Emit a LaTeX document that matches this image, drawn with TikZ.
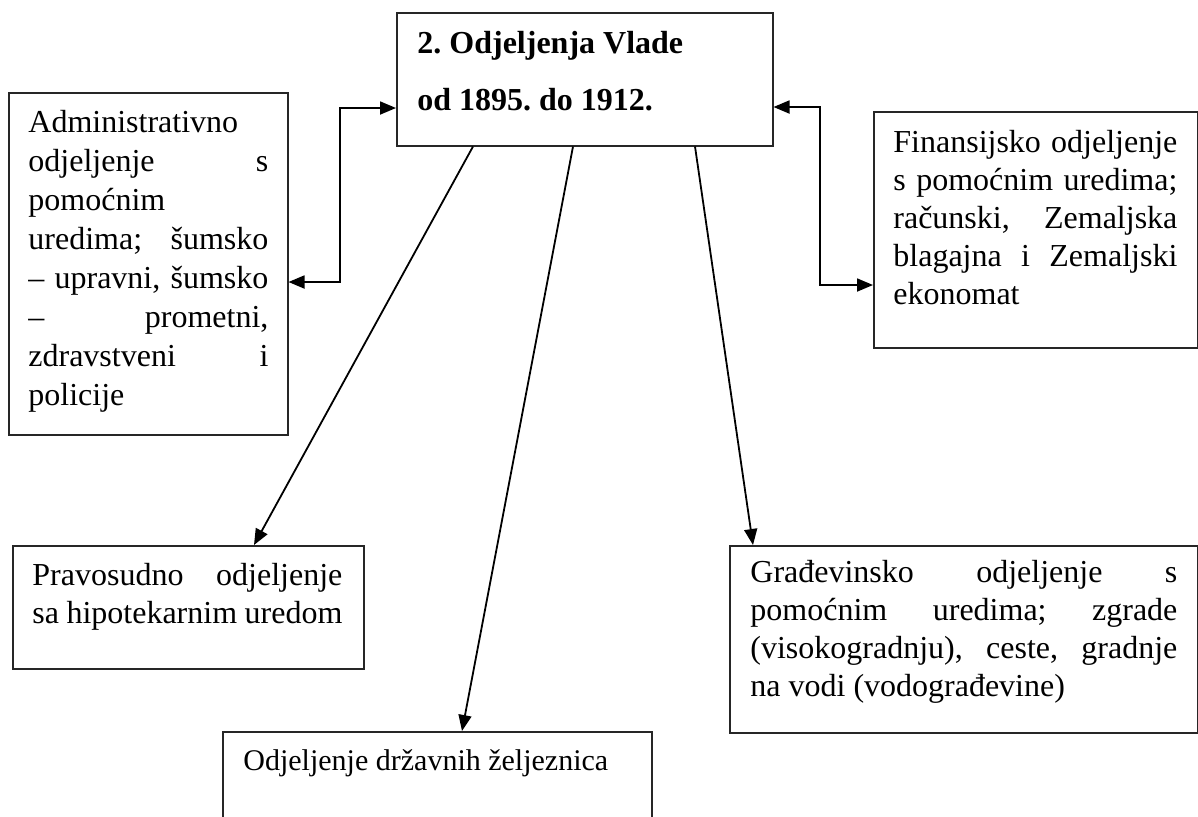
\documentclass[tikz,border=0pt]{standalone}
\usepackage{fontspec}
\setmainfont{Liberation Serif}
\usetikzlibrary{arrows.meta,calc}
\frenchspacing
\newcommand\jl[1]{\makebox[\linewidth][s]{#1}}
\newcommand\tbox[3]{\parbox[t]{#1}{\setlength{\baselineskip}{#2}#3}}
\begin{document}
\begin{tikzpicture}[x=0.5pt,y=-0.5pt,
  box/.style={draw=black!85,line width=0.75pt,anchor=north west,inner sep=0pt},
  txt/.style={anchor=base west,inner sep=0pt,font=\fontsize{16pt}{19pt}\selectfont},
  arr/.style={line width=0.9pt,-{Triangle[length=8pt,width=6.5pt]}},
  darr/.style={line width=0.9pt,{Triangle[length=8pt,width=6.5pt]}-{Triangle[length=8pt,width=6.5pt]}}]
\useasboundingbox (0,0) rectangle (1198,816);
% boxes
\node[box,minimum width=188pt,minimum height=66.5pt] (top) at (396,12) {};
\node[box,minimum width=139.5pt,minimum height=171pt] (adm) at (8,92) {};
\node[box,minimum width=162pt,minimum height=118pt] (fin) at (873,111) {};
\node[box,minimum width=175.5pt,minimum height=61.5pt] (prav) at (12,545) {};
\node[box,minimum width=214.5pt,minimum height=54.5pt] (drz) at (222,731) {};
\node[box,minimum width=234pt,minimum height=93.5pt] (grad) at (729,545) {};
% texts
\node[txt] (topt) at (417,53) {\tbox{180pt}{28.5pt}{\bfseries 2. Odjeljenja Vlade\\od 1895. do 1912.}};
\node[txt] (admt) at (28,132) {\tbox{120pt}{19.5pt}{Administrativno\\\jl{odjeljenje s}\\pomoćnim\\\jl{uredima; šumsko}\\\jl{– upravni, šumsko}\\\jl{– prometni,}\\\jl{zdravstveni i}\\policije}};
\node[txt] (fint) at (893,152) {\tbox{142pt}{19pt}{\jl{Finansijsko odjeljenje}\\\jl{s pomoćnim uredima;}\\\jl{računski, Zemaljska}\\\jl{blagajna i Zemaljski}\\ekonomat}};
\node[txt] (pravt) at (32,585) {\tbox{155pt}{19pt}{\jl{Pravosudno odjeljenje}\\\jl{sa hipotekarnim uredom}}};
\node[txt,font=\fontsize{15pt}{18pt}\selectfont] (drzt) at (243,770) {Odjeljenje državnih željeznica};
\node[txt] (gradt) at (750,582) {\tbox{213.5pt}{19pt}{\jl{Građevinsko odjeljenje s}\\\jl{pomoćnim uredima; zgrade}\\\jl{(visokogradnju), ceste, gradnje}\\na vodi (vodograđevine)}};
% connectors
\coordinate (la) at (340,108);
\coordinate (lb) at (340,282);
\coordinate (ra) at (820,107);
\coordinate (rb) at (820,285);
\draw[darr] (top.west |- la) -- (la) -- (lb) -- (adm.east |- lb);
\draw[darr] (top.east |- ra) -- (ra) -- (rb) -- (fin.west |- rb);
\draw[arr] ($(top.south west)+(77,0)$) -- ($(prav.north west)+(242,0)$);
\draw[arr] ($(top.south west)+(177,0)$) -- ($(drz.north west)+(240,0)$);
\draw[arr] ($(top.south west)+(299,0)$) -- ($(grad.north west)+(24,0)$);
\end{tikzpicture}
\end{document}
